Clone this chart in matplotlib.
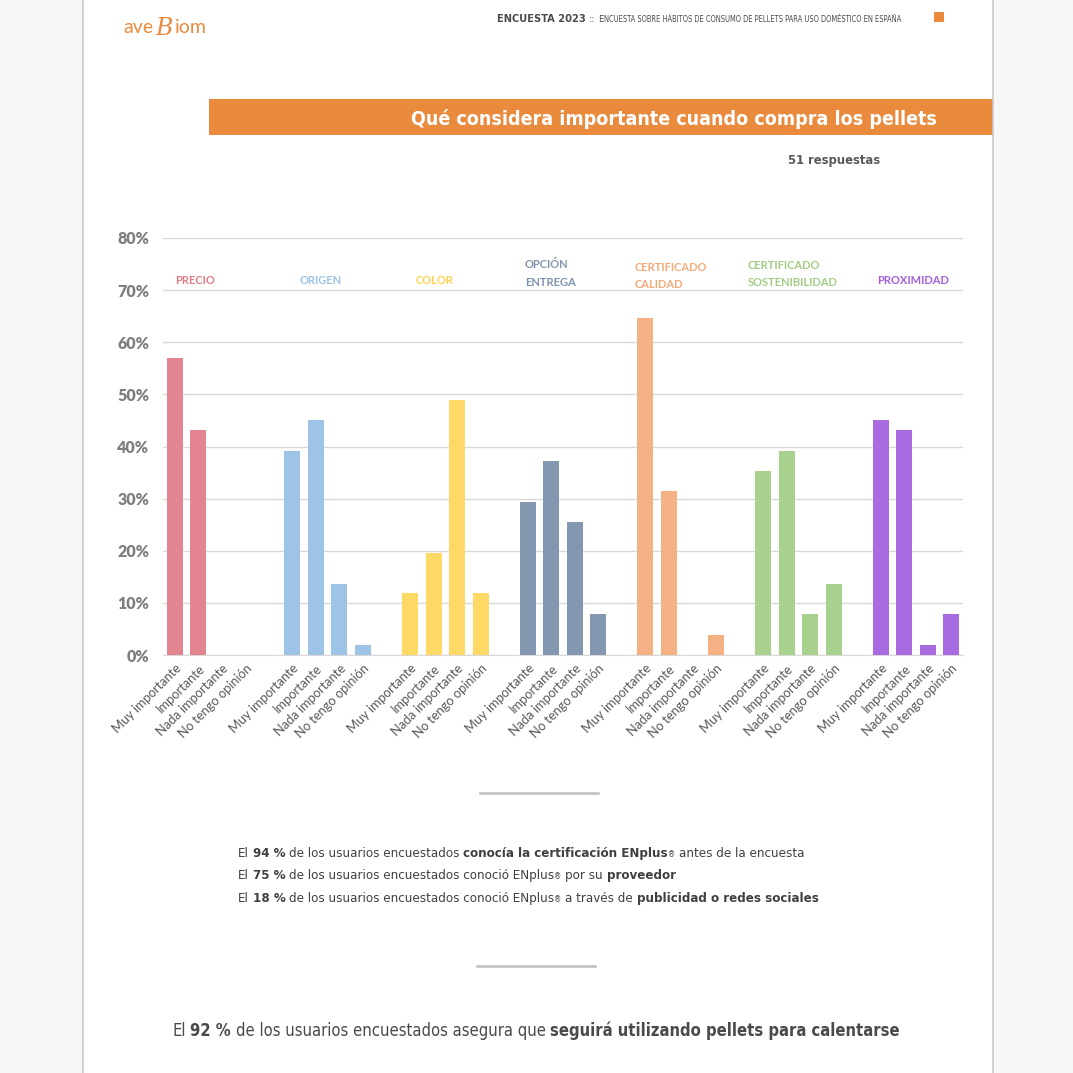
import numpy as np
import matplotlib
matplotlib.use('Agg')
import matplotlib.pyplot as plt
from matplotlib.patches import Rectangle
from matplotlib.lines import Line2D

# --- data (percent of 51 answers) ---
groups = ['PRECIO', 'ORIGEN', 'COLOR', 'OPCIÓN\nENTREGA', 'CERTIFICADO\nCALIDAD',
          'CERTIFICADO\nSOSTENIBILIDAD', 'PROXIMIDAD']
answers = ['Muy importante', 'Importante', 'Nada importante', 'No tengo opinión']
precio = [56.9, 43.1, 0, 0]
origen = [39.2, 45.1, 13.7, 2.0]
color_ = [11.8, 19.6, 49.0, 11.8]
entrega = [29.4, 37.3, 25.5, 7.8]
calidad = [64.7, 31.4, 0, 3.9]
sostenib = [35.3, 39.2, 7.8, 13.7]
proximidad = [45.1, 43.1, 2.0, 7.8]
values = [precio, origen, color_, entrega, calidad, sostenib, proximidad]
yticks = [0, 10, 20, 30, 40, 50, 60, 70, 80]

colors = ['#E28590', '#9DC3E6', '#FFD966', '#8497B0', '#F4B183', '#A9D18E', '#A86BE0']
title_colors = ['#E07A86', '#9DC3E6', '#FFD24D', '#7F93AE', '#F4A977', '#A2CC86', '#A25FDD']

W, H = 1073, 1073
NARROW = ['DejaVu Sans']
CHART = ['Lato', 'DejaVu Sans']

fig = plt.figure(figsize=(W / 100, H / 100), dpi=100)
fig.patch.set_facecolor('white')


def fx(x):
    return x / W


def fy(y):
    return 1 - y / H


# page background / borders
fig.patches.append(Rectangle((0, 0), fx(83), 1, transform=fig.transFigure,
                             facecolor='#F7F7F7', edgecolor='none', zorder=0))
fig.patches.append(Rectangle((fx(993), 0), 1 - fx(993), 1, transform=fig.transFigure,
                             facecolor='#F7F7F7', edgecolor='none', zorder=0))
for xb in (83, 993):
    fig.lines.append(Line2D([fx(xb), fx(xb)], [0, 1], transform=fig.transFigure,
                            color='#C8C8C8', lw=1.2))

renderer = fig.canvas.get_renderer()


def _draw(x, y, parts, size, color, family, ha='left'):
    sp = fig.text(0, 0, 'x x', fontsize=size, family=family, fontstretch='condensed')
    sp2 = fig.text(0, 0, 'xx', fontsize=size, family=family, fontstretch='condensed')
    space = (sp.get_window_extent(renderer).width - sp2.get_window_extent(renderer).width)
    sp.remove()
    sp2.remove()
    cx = x
    made = []
    for txt, weight, fac in parts:
        if txt == ' ':
            cx += space
            continue
        t = fig.text(fx(cx), fy(y), txt, fontsize=size * fac, family=family,
                     fontweight=weight, color=color, va='baseline', ha='left',
                     fontstretch='condensed')
        made.append(t)
        cx += t.get_window_extent(renderer).width
    return made, cx - x


def rich(x, y, parts, size, color, family, width=None, ha='left'):
    """Draw text pieces (text, weight, size_factor) left to right; optionally fit a width."""
    made, w = _draw(x, y, parts, size, color, family)
    if width is not None or ha == 'right':
        for t in made:
            t.remove()
        if width is not None:
            size = size * width / w
            made, w = _draw(x, y, parts, size, color, family)
            for t in made:
                t.remove()
        x0 = x - w if ha == 'right' else x
        made, w = _draw(x0, y, parts, size, color, family)
    return size


# header logo
orange = '#E98A3C'
cx = 123
for piece, fam, sz, st, dy in [('ave', ['Lato', 'DejaVu Sans'], 14, 'normal', 0),
                               ('B', ['DejaVu Serif'], 17, 'italic', 2),
                               ('iom', ['Lato', 'DejaVu Sans'], 14, 'normal', 0)]:
    t = fig.text(fx(cx), fy(33 + dy), piece, color=orange, fontsize=sz, family=fam,
                 style=st, va='baseline', ha='left')
    cx += t.get_window_extent(renderer).width + 2
fig.patches.append(Rectangle((fx(934), fy(22)), fx(10), 10 / H, transform=fig.transFigure,
                             facecolor=orange, edgecolor='none'))

rich(497, 22, [('ENCUESTA 2023', 'bold', 1.0), (' ', 'normal', 1), ('::', 'normal', 1.0),
               (' ', 'normal', 1), ('E', 'normal', 0.85),
               ('NCUESTA SOBRE HÁBITOS DE CONSUMO DE PELLETS PARA USO DOMÉSTICO EN ESPAÑA',
                'normal', 0.68)],
     10.5, '#4A4A4A', NARROW, width=407)

# title banner
fig.patches.append(Rectangle((fx(209), fy(135)), fx(993 - 209), 36 / H, transform=fig.transFigure,
                             facecolor=orange, edgecolor='none'))
rich(937, 125, [('Qué considera importante cuando compra los pellets', 'bold', 1)],
     17, 'white', NARROW, width=524, ha='right')
rich(880, 164, [('51 respuestas', 'bold', 1)], 11.5, '#595959', NARROW, width=93, ha='right')

# chart
ax = fig.add_axes([fx(163), fy(655), fx(800), 417 / H])
bar_w = 0.68
xpos, labels = [], []
for gi, (vals, c) in enumerate(zip(values, colors)):
    xs = [gi * 5 + j for j in range(len(vals))]
    ax.bar(xs, vals, width=bar_w, color=c, zorder=3)
    xpos += xs
    labels += answers

ax.set_xlim(-0.5, 33.5)
ax.set_ylim(0, 80)
ax.set_yticks(yticks)
ax.set_yticklabels([f'{v}%' for v in yticks], fontsize=11.5, fontweight='heavy',
                   color='#7F7F7F', family=CHART)
ax.set_xticks(xpos)
ax.set_xticklabels(labels, rotation=45, ha='right', va='top', rotation_mode='anchor',
                   fontsize=9.3, color='#595959', family=CHART)
ax.tick_params(axis='both', length=0)
ax.tick_params(axis='y', pad=10)
ax.tick_params(axis='x', pad=5)
ax.grid(axis='y', color='#D9D9D9', lw=1, zorder=0)
for s in ['top', 'right', 'left']:
    ax.spines[s].set_visible(False)
ax.spines['bottom'].set_color('#D9D9D9')
ax.set_facecolor('none')

title_off = [0.0, 0.32, 0.25, -0.12, -0.44, -0.64, -0.16]
title_y = [71.8, 71.8, 71.8, 73.2, 72.7, 73.1, 71.8]
for gi, (g, c) in enumerate(zip(groups, title_colors)):
    ax.text(gi * 5 + title_off[gi], title_y[gi], g, color=c, fontsize=8, fontweight='bold',
            family=CHART, ha='left', va='center', linespacing=1.75)

# separators
for y0, x0, x1 in [(793, 480, 598), (966, 477, 595)]:
    fig.lines.append(Line2D([fx(x0), fx(x1)], [fy(y0), fy(y0)], transform=fig.transFigure,
                            color='#BFBFBF', lw=1.8))

txt_col = '#404040'
B, N = 'bold', 'normal'
s1 = rich(238, 857, [('El', N, 1), (' ', N, 1), ('94 %', B, 1), (' ', N, 1),
                     ('de los usuarios encuestados', N, 1), (' ', N, 1),
                     ('conocía la certificación ENplus', B, 1), ('®', N, 0.6), (' ', N, 1),
                     ('antes de la encuesta', N, 1)], 12.5, txt_col, NARROW, width=566)
rich(238, 879, [('El', N, 1), (' ', N, 1), ('75 %', B, 1), (' ', N, 1),
                ('de los usuarios encuestados conoció ENplus', N, 1), ('®', N, 0.6), (' ', N, 1),
                ('por su', N, 1), (' ', N, 1), ('proveedor', B, 1)], s1, txt_col, NARROW)
rich(238, 902, [('El', N, 1), (' ', N, 1), ('18 %', B, 1), (' ', N, 1),
                ('de los usuarios encuestados conoció ENplus', N, 1), ('®', N, 0.6), (' ', N, 1),
                ('a través de', N, 1), (' ', N, 1), ('publicidad o redes sociales', B, 1)],
     s1, txt_col, NARROW)
rich(172, 1036, [('El', N, 1), (' ', N, 1), ('92 %', B, 1), (' ', N, 1),
                 ('de los usuarios encuestados asegura que', N, 1), (' ', N, 1),
                 ('seguirá utilizando pellets para calentarse', B, 1)], 15, '#4A4A4A', NARROW,
     width=729)

plt.savefig('out.png', dpi=100, facecolor='white')
